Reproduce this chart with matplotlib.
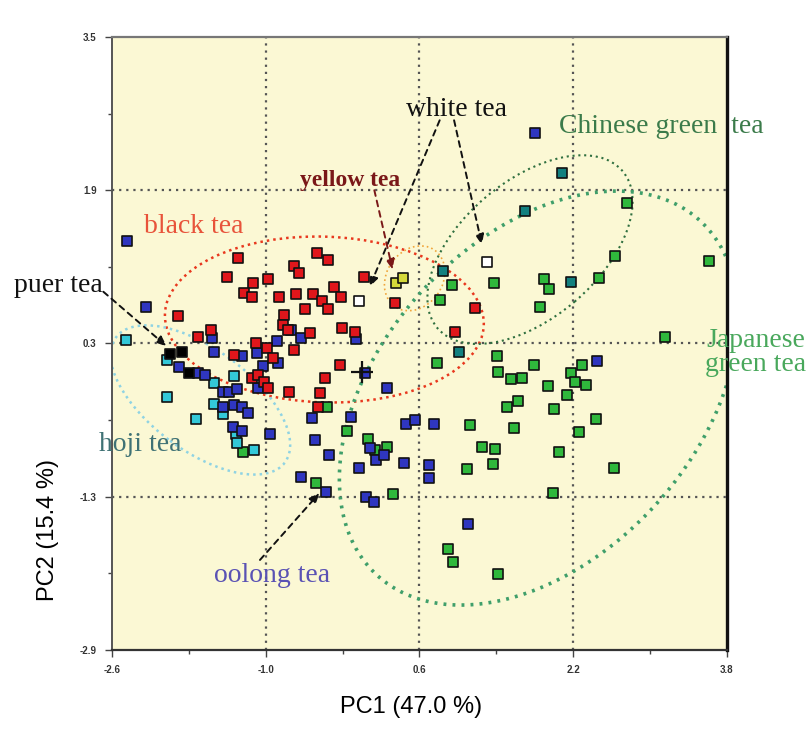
"""PCA score plot of tea samples (PC1 vs PC2)."""

import matplotlib.pyplot as plt
from matplotlib.patches import Ellipse

plt.switch_backend("Agg")

# ---- data (PC1, PC2 scores) ----
black_tea_x = [-1.29, -0.47, -0.35, -0.71, -0.65, -1.40, -1.13, -0.98, 0.02, -1.23,
               -1.14, -0.86, -0.68, -0.51, -0.29, -0.22, -0.41, -0.35, -0.59, -1.91,
               -0.81, -0.82, -0.77, -0.21, -0.07, 0.35, -1.71, -1.57, -0.54, -1.10,
               -0.99, -1.33, -0.92, -0.71, -1.14, -1.08, -1.02, -0.98, -0.76, -0.23,
               -0.38, -0.44, -0.46, 1.18, 0.97]
black_tea_y = [1.19, 1.24, 1.17, 1.11, 1.04, 0.99, 0.93, 0.97, 0.99, 0.83,
               0.79, 0.79, 0.82, 0.82, 0.89, 0.79, 0.74, 0.66, 0.66, 0.59,
               0.60, 0.49, 0.44, 0.46, 0.42, 0.72, 0.37, 0.44, 0.41, 0.30,
               0.25, 0.18, 0.15, 0.23, -0.06, -0.03, -0.10, -0.16, -0.21, 0.07,
               -0.06, -0.22, -0.36, 0.67, 0.42]

oolong_x = [-2.44, -2.25, -0.74, -0.63, -0.88, -0.06, -1.56, -1.54, -1.25, -1.09,
            -1.03, -0.87, -1.08, -1.90, -1.71, -1.63, -1.45, -1.38, -1.30, -1.45,
            -1.33, -1.25, -1.18, -1.34, -1.25, -0.96, 0.03, 0.26, -0.52, -0.11,
            0.46, 0.55, 0.75, -0.49, 0.08, 0.15, 0.23, -0.34, 0.44, 0.70,
            0.70, -0.03, -0.63, -0.37, 0.04, 0.13, 1.11, 2.45, 1.80]
oolong_y = [1.37, 0.68, 0.44, 0.36, 0.33, 0.35, 0.36, 0.21, 0.17, 0.20,
            0.06, 0.10, -0.16, 0.05, -0.01, -0.03, -0.21, -0.21, -0.18, -0.36,
            -0.34, -0.36, -0.43, -0.57, -0.61, -0.64, -0.01, -0.17, -0.48, -0.47,
            -0.54, -0.50, -0.54, -0.71, -0.79, -0.92, -0.86, -0.86, -0.95, -0.97,
            -1.10, -1.00, -1.09, -1.25, -1.30, -1.36, -1.58, 0.12, 2.50]

hoji_x = [-2.45, -2.03, -1.33, -1.54, -2.03, -1.54, -1.45, -1.73, -1.31, -1.30, -1.12]
hoji_y = [0.34, 0.13, -0.04, -0.11, -0.26, -0.33, -0.44, -0.49, -0.64, -0.74, -0.81]

puer_x = [-2.00, -1.87, -1.80]
puer_y = [0.19, 0.21, -0.01]

yellow_x = [0.36, 0.43]
yellow_y = [0.93, 0.98]

white_x = [-0.03, 1.30]
white_y = [0.74, 1.15]

chinese_teal_x = [2.08, 1.70, 0.84, 2.18, 1.01]
chinese_teal_y = [2.08, 1.68, 1.06, 0.94, 0.21]

green_x = [2.76, 0.94, 0.81, 1.38, 1.90, 1.95, 1.85, 2.47, 2.63, 3.61,
           3.15, 0.78, 1.41, 1.42, 1.55, 1.67, 1.79, 1.94, 2.18, 2.29,
           2.22, 2.33, 2.14, 1.51, 1.63, 2.00, 2.44, 2.26, 1.13, 1.58,
           1.25, 1.39, 2.05, 1.37, 1.09, 2.62, 1.99, 0.90, 0.95, 1.42,
           -0.36, -0.15, 0.06, 0.14, 0.26, -0.48, 0.32, -1.24]
green_y = [1.77, 0.91, 0.75, 0.93, 0.97, 0.87, 0.68, 0.98, 1.21, 1.16,
           0.37, 0.10, 0.17, 0.00, -0.07, -0.06, 0.07, -0.14, -0.01, 0.08,
           -0.10, -0.13, -0.24, -0.36, -0.30, -0.38, -0.49, -0.62, -0.55, -0.58,
           -0.78, -0.80, -0.83, -0.96, -1.01, -1.00, -1.26, -1.85, -1.98, -2.11,
           -0.36, -0.61, -0.70, -0.81, -0.78, -1.16, -1.27, -0.83]

x_ticks = [-2.6, -1.0, 0.6, 2.2, 3.8]
y_ticks = [-2.9, -1.3, 0.3, 1.9, 3.5]
x_tick_labels = ["-2.6", "-1.0", "0.6", "2.2", "3.8"]
y_tick_labels = ["-2.9", "-1.3", "0.3", "1.9", "3.5"]

SERIF = "Liberation Serif"
SANS = "Liberation Sans"

fig = plt.figure(figsize=(8.11, 7.29), dpi=100)
ax = fig.add_axes([0.1381, 0.1084, 0.7583, 0.8409])
ax.set_facecolor("#fbf8d4")
ax.set_xlim(-2.6, 3.8)
ax.set_ylim(-2.9, 3.5)

# dotted reference grid at the inner major ticks
for gx in x_ticks[1:-1]:
    ax.axvline(gx, color="#555555", lw=1.6, ls=(0, (1, 2.2)), zorder=1)
for gy in y_ticks[1:-1]:
    ax.axhline(gy, color="#555555", lw=1.6, ls=(0, (1, 2.2)), zorder=1)

# group ellipses
ellipses = [
    ((-0.39, 0.55), 3.32, 1.73, -2, "#e8381e", 1.8, (0, (1, 1.6))),
    ((-1.68, -0.29), 2.19, 1.06, -36.6, "#8fd3e3", 1.8, (0, (1, 1.6))),
    ((0.55, 0.98), 0.72, 0.58, 55, "#f0a53a", 1.2, (0, (1, 1.8))),
    ((1.75, 1.28), 2.53, 1.43, 40.5, "#2f6f3f", 1.5, (0, (1, 1.8))),
    ((1.84, -0.27), 5.0, 3.3, 48, "#3f9f6a", 2.6, (0, (0.8, 1.7))),
]
for center, w, h, ang, col, lw, ls in ellipses:
    ax.add_patch(Ellipse(center, w, h, angle=ang, fill=False, edgecolor=col,
                         lw=lw, ls=ls, zorder=2))

mk = dict(marker="s", s=48, edgecolors="#111111", linewidths=1.2, zorder=3)
ax.scatter(green_x, green_y, c="#2fb83c", **mk)
ax.scatter(chinese_teal_x, chinese_teal_y, c="#12807f", **mk)
ax.scatter(hoji_x, hoji_y, c="#33c8d8", **mk)
ax.scatter(oolong_x, oolong_y, c="#2f36c0", **mk)
ax.scatter(black_tea_x, black_tea_y, c="#e0161b", **mk)
ax.scatter(puer_x, puer_y, c="#000000", **mk)
ax.scatter(yellow_x, yellow_y, c="#d4d83a", **mk)
ax.scatter(white_x, white_y, c="#ffffff", **mk)
ax.scatter([0.0], [0.0], marker="+", s=260, c="#111111", linewidths=1.6, zorder=4)

# labels
ax.text(-1.75, 1.52, "black tea", color="#e8533a", fontsize=20, family=SERIF,
        ha="center", va="center")
ax.text(-0.12, 2.00, "yellow tea", color="#7a1818", fontsize=17, family=SERIF,
        weight="bold", ha="center", va="center")
ax.text(0.99, 2.74, "white tea", color="#111111", fontsize=20, family=SERIF,
        ha="center", va="center")
ax.text(2.05, 2.56, "Chinese green  tea", color="#3b7b4a", fontsize=20, family=SERIF,
        ha="left", va="center", clip_on=False)
ax.text(4.10, 0.21, "Japanese\ngreen tea", color="#49a85c", fontsize=20, family=SERIF,
        ha="center", va="center", linespacing=0.95, clip_on=False)
ax.text(-2.31, -0.76, "hoji tea", color="#3f7275", fontsize=20, family=SERIF,
        ha="center", va="center")
ax.text(-0.93, -2.12, "oolong tea", color="#5a52b4", fontsize=20, family=SERIF,
        ha="center", va="center")
ax.text(-3.16, 0.91, "puer tea", color="#111111", fontsize=20, family=SERIF,
        ha="center", va="center", clip_on=False)

# dashed pointer arrows: (start, end, colour)
arrows = [
    ((-2.69, 0.84), (-2.03, 0.27), "#111111"),
    ((0.81, 2.63), (0.08, 0.89), "#111111"),
    ((0.96, 2.63), (1.25, 1.33), "#111111"),
    ((0.13, 1.90), (0.32, 1.07), "#7a1818"),
    ((-1.06, -1.96), (-0.44, -1.26), "#111111"),
]
for start, end, col in arrows:
    ax.annotate("", xy=end, xytext=start, annotation_clip=False,
                arrowprops=dict(arrowstyle="-|>,head_length=0.6,head_width=0.25",
                                color=col, lw=1.4, ls=(0, (3, 2.5)),
                                shrinkA=0, shrinkB=0), zorder=5)

# axes styling
ax.set_xticks(x_ticks)
ax.set_xticklabels(x_tick_labels)
ax.set_yticks(y_ticks)
ax.set_yticklabels(y_tick_labels)
ax.set_xticks([-1.8, -0.2, 1.4, 3.0], minor=True)
ax.set_yticks([-2.1, -0.5, 1.1, 2.7], minor=True)
ax.tick_params(which="both", direction="out", color="#444444", width=1.0)
ax.tick_params(which="major", length=5, labelsize=7, labelcolor="#333333", pad=6)
ax.tick_params(which="minor", length=3)
for lab in ax.get_xticklabels() + ax.get_yticklabels():
    lab.set_fontweight("bold")
    lab.set_family(SANS)

ax.spines["left"].set_color("#555555")
ax.spines["bottom"].set_color("#333333")
ax.spines["top"].set_color("#777777")
ax.spines["right"].set_color("#111111")
ax.spines["left"].set_linewidth(1.4)
ax.spines["bottom"].set_linewidth(1.6)
ax.spines["top"].set_linewidth(1.6)
ax.spines["right"].set_linewidth(2.4)

fig.text(0.507, 1 - 707 / 729, "PC1 (47.0 %)", fontsize=17, family=SANS,
         ha="center", va="center")
fig.text(48 / 811, 1 - 530 / 729, "PC2 (15.4 %)", fontsize=17, family=SANS,
         ha="center", va="center", rotation=90)

fig.savefig("out.png", dpi=100)
